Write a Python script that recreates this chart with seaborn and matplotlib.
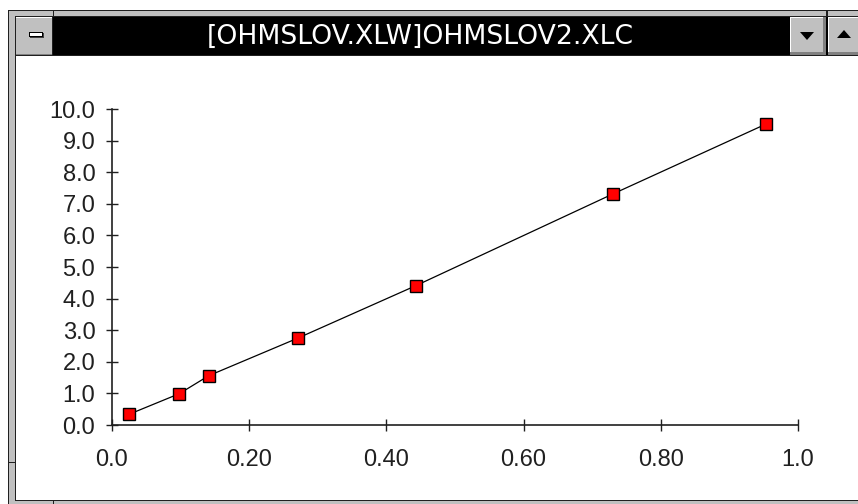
#!/usr/bin/env python3
"""Ohm's law chart inside an old Excel chart window."""

import matplotlib
matplotlib.use("Agg")
import matplotlib.pyplot as plt
from matplotlib.patches import Rectangle, Polygon
import pandas as pd
import seaborn as sns

# data
current = [0.025, 0.098, 0.141, 0.271, 0.443, 0.730, 0.953]
voltage = [0.34, 0.99, 1.56, 2.75, 4.41, 7.31, 9.52]
x_ticks = [0.0, 0.2, 0.4, 0.6, 0.8, 1.0]
x_labels = ["0.0", "0.20", "0.40", "0.60", "0.80", "1.0"]
y_ticks = [0, 1, 2, 3, 4, 5, 6, 7, 8, 9, 10]
y_labels = [f"{v:.1f}" for v in y_ticks]
title = "[OHMSLOV.XLW]OHMSLOV2.XLC"

W, H = 858, 504
GRAY = "#c0c0c0"
DARK = "#202020"


def draw_window(fig):
    # window chrome, drawn in pixel coordinates on a background axes
    bg = fig.add_axes([0, 0, 1, 1], zorder=0)
    bg.set_xlim(0, W)
    bg.set_ylim(H, 0)
    bg.axis("off")

    def rect(x0, y0, x1, y1, color, **kw):
        bg.add_patch(Rectangle((x0, y0), x1 - x0, y1 - y0, facecolor=color,
                               edgecolor="none", **kw))

    # outer frame
    rect(8, 10, W + 5, H + 5, GRAY)
    rect(8, 10, W + 5, 11, DARK)
    rect(8, 10, 9, H + 5, DARK)
    rect(15, 16, W + 5, 17, DARK)
    rect(15, 16, 16, 501, DARK)
    rect(15, 500, W + 5, 501, DARK)
    # client area
    rect(16, 56, W + 5, 500, "white")
    # frame marks
    rect(53, 10, 54, 17, DARK)
    rect(8, 462, 16, 463, DARK)
    rect(53, 500, 54, H + 5, DARK)
    rect(826, 10, 828, 56, DARK)

    # title bar
    rect(16, 17, W + 5, 55, "black")
    rect(16, 55, W + 5, 56, DARK)
    fig.text(420.5 / W, 1 - 36.5 / H, title, color="white",
             ha="center", va="center", fontsize=19.2,
             family=["DejaVu Sans"])

    # system menu button
    rect(16, 17, 53, 55, GRAY)
    rect(16, 17, 53, 18, "white")
    rect(52, 17, 53, 55, "#808080")
    rect(16, 54, 53, 55, "#808080")
    rect(30, 33, 44, 38, "#404040")
    rect(29, 32, 43, 37, "black")
    rect(30, 33, 42, 36, "white")
    rect(52, 17, 53, 55, DARK)

    # down / up buttons
    for x0, x1 in [(790, 826), (828, W + 5)]:
        rect(x0, 17, x1, 55, GRAY)
        rect(x0, 17, x1, 18, "white")
        rect(x0, 17, x0 + 1, 55, "white")
        rect(x0, 52, x1, 55, "#808080")
        rect(x1 - 3, 17, x1, 55, "#808080")
    bg.add_patch(Polygon([(800, 32), (814, 32), (807, 40)], closed=True,
                         facecolor="black", edgecolor="none"))
    bg.add_patch(Polygon([(837, 38), (851, 38), (844, 30)], closed=True,
                         facecolor="black", edgecolor="none"))


def main():
    sns.set_theme(style="white")
    plt.rcParams["font.family"] = ["Liberation Sans", "DejaVu Sans"]

    fig = plt.figure(figsize=(W / 100, H / 100), dpi=100)
    fig.patch.set_facecolor("white")
    draw_window(fig)

    ax = fig.add_axes([112 / W, 1 - 425 / H, 686 / W, 316 / H], zorder=2)
    ax.patch.set_alpha(0)

    df = pd.DataFrame({"current": current, "voltage": voltage})
    sns.lineplot(data=df, x="current", y="voltage", ax=ax, color="black",
                 linewidth=0.9, marker="s", markersize=8,
                 markerfacecolor="#ff0000", markeredgecolor="black",
                 markeredgewidth=1.0, sort=False)

    ax.set_xlim(0, 1.0)
    ax.set_ylim(0, 10)
    ax.set_xticks(x_ticks)
    ax.set_xticklabels(x_labels)
    ax.set_yticks(y_ticks)
    ax.set_yticklabels(y_labels)
    ax.set_xlabel("")
    ax.set_ylabel("")

    for side in ["top", "right"]:
        ax.spines[side].set_visible(False)
    for side in ["left", "bottom"]:
        ax.spines[side].set_color(DARK)
        ax.spines[side].set_linewidth(1.2)

    ax.tick_params(axis="both", direction="inout", length=8, width=1.0,
                   color=DARK, labelcolor=DARK, labelsize=17)
    ax.tick_params(axis="y", pad=8, left=True)
    ax.tick_params(axis="x", pad=13, bottom=True)

    fig.savefig("out.png", dpi=100)
    plt.close(fig)


if __name__ == "__main__":
    main()
